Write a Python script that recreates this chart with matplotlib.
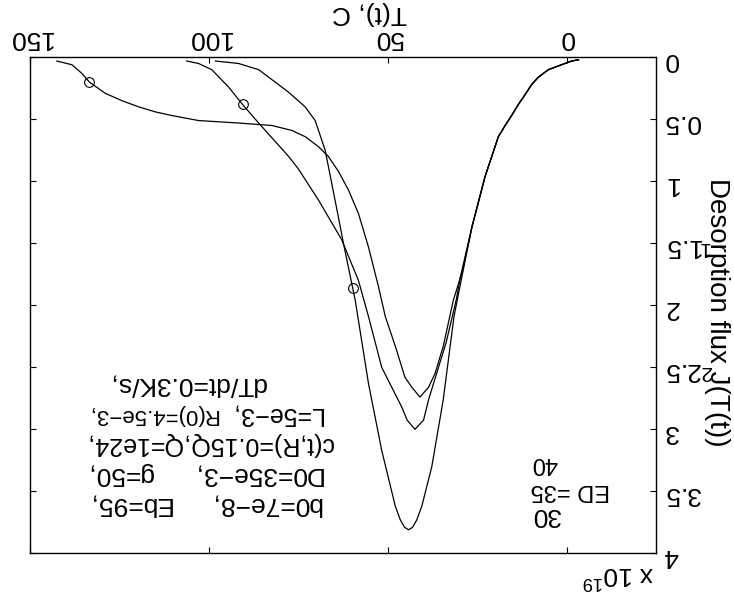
import matplotlib
matplotlib.use("Agg")
import matplotlib.pyplot as plt

plt.rcParams["font.family"] = "sans-serif"
plt.rcParams["font.sans-serif"] = ["Liberation Sans", "DejaVu Sans"]
plt.rcParams["mathtext.default"] = "regular"

# Desorption flux curves, flux in units of 1e19, temperature in C
temp_ed30 = [-3.2, -1.3, 0.6, 3.4, 5.2, 8.0, 9.9, 11.7, 13.6, 15.5,
             17.3, 19.2, 22.9, 26.6, 29.4, 31.6, 34.6, 37.8, 40.6, 42.0,
             43.2, 44.3, 45.4, 46.6, 48.0, 51.8, 55.5, 59.2, 62.5, 63.9,
             67.6, 70.4, 73.2, 77.9, 82.5, 86.2, 91.8, 98.3]
flux_ed30 = [0.02, 0.03, 0.05, 0.08, 0.10, 0.16, 0.22, 0.30, 0.38, 0.47,
             0.55, 0.64, 0.96, 1.37, 1.77, 2.09, 2.76, 3.30, 3.62, 3.73,
             3.79, 3.81, 3.79, 3.73, 3.62, 3.17, 2.63, 1.96, 1.50, 1.29,
             0.75, 0.51, 0.40, 0.28, 0.18, 0.10, 0.05, 0.03]

temp_ed35 = [-3.2, -1.3, 0.6, 3.4, 5.2, 8.0, 9.9, 11.7, 13.6, 15.5,
             17.3, 19.2, 22.9, 26.6, 29.8, 31.0, 33.8, 38.7, 40.1, 42.5,
             44.7, 46.2, 49.0, 51.8, 55.5, 58.3, 63.0, 69.5, 75.1, 77.8,
             86.2, 90.7, 94.6, 99.3, 103.0, 106.3]
flux_ed35 = [0.02, 0.03, 0.05, 0.08, 0.10, 0.16, 0.22, 0.30, 0.38, 0.47,
             0.55, 0.64, 0.96, 1.37, 1.77, 1.96, 2.30, 2.76, 2.925, 3.00,
             2.925, 2.82, 2.66, 2.50, 2.09, 1.80, 1.47, 1.15, 0.90, 0.80,
             0.53, 0.38, 0.24, 0.10, 0.05, 0.03]

temp_ed40 = [-3.2, -1.3, 0.6, 3.4, 5.2, 8.0, 9.9, 11.7, 13.6, 15.5,
             17.3, 19.2, 22.9, 26.6, 29.2, 31.8, 34.6, 36.9, 38.7, 41.1,
             43.4, 45.3, 48.0, 50.8, 52.7, 55.5, 58.3, 61.1, 63.9, 66.7,
             69.5, 73.2, 76.9, 82.5, 91.8, 103.0, 110.4, 115.1, 119.7, 124.4,
             129.1, 133.5, 135.6, 138.4, 142.6]
flux_ed40 = [0.02, 0.03, 0.05, 0.08, 0.10, 0.16, 0.22, 0.30, 0.38, 0.47,
             0.55, 0.64, 0.96, 1.37, 1.72, 1.96, 2.33, 2.55, 2.66, 2.74,
             2.66, 2.58, 2.33, 2.09, 1.85, 1.53, 1.26, 1.07, 0.92, 0.80,
             0.72, 0.64, 0.59, 0.55, 0.53, 0.51, 0.47, 0.44, 0.40, 0.35,
             0.29, 0.20, 0.13, 0.06, 0.03]

marker_temp = [59.7, 90.7, 133.5]
marker_flux = [1.86, 0.38, 0.20]

x_ticks = [0, 50, 100, 150]
y_ticks = [0, 0.5, 1, 1.5, 2, 2.5, 3, 3.5, 4]
y_tick_labels = ["0", "0.5", "1", "1.5", "2", "2.5", "3", "3.5", "4"]

params_left = ["b0=7e\u22128,", "D0=35e\u22123,", "c(t,R)=0.15Q,", "L=5e\u22123,", "dT/dt=0.3K/s,"]
params_right = ["Eb=95,", "g=50,", "Q=1e24,", "R(0)=4.5e\u22123,", ""]
ed_labels = ["40", "ED =35", "30"]

fig = plt.figure(figsize=(7.34, 5.98), dpi=100)
ax = fig.add_axes([0.0414, 0.0746, 0.853, 0.8296])

for t, j in [(temp_ed30, flux_ed30), (temp_ed35, flux_ed35), (temp_ed40, flux_ed40)]:
    ax.plot(t, j, color="black", lw=0.9)
ax.plot(marker_temp, marker_flux, "o", mfc="none", mec="black", ms=7, mew=0.8)

# the whole chart is shown upside down
ax.set_xlim(150, -25)
ax.set_ylim(4, 0)
ax.set_xticks(x_ticks)
ax.set_yticks(y_ticks)
ax.set_yticklabels(y_tick_labels)
ax.tick_params(direction="in", length=4, width=0.8, labelsize=19, top=True, right=True,
               labeltop=True, labelbottom=False, labelright=True, labelleft=False,
               labelrotation=180, pad=5)
for s in ax.spines.values():
    s.set_linewidth(1.0)

ax.set_xlabel("T(t), C", fontsize=19, rotation=180, ha="center", va="center")
ax.xaxis.set_label_coords(0.541, 1.089)
ax.set_ylabel("Desorption flux J(T(t))", fontsize=20, rotation=270, ha="center", va="center")
ax.yaxis.set_label_coords(1.097, 0.485)

ax.text(0.996, -0.014, r"x 10$^{19}$", transform=ax.transAxes, fontsize=19,
        rotation=180, ha="right", va="top")

# stray digits that sit beside the 1.5 and 2.5 tick labels
fig.text(704 / 734, 1 - 247 / 598, "1", fontsize=15, rotation=180, ha="center", va="center")
fig.text(705 / 734, 1 - 372 / 598, "2", fontsize=15, rotation=180, ha="center", va="center")

# parameter block: image-right edge of first column, image-left edge of second
line_y = [3.603, 3.361, 3.119, 2.877, 2.635]
left_x = [68.6, 68.6, 65.3, 68.6, 84.3]
left_fs = [19, 19, 18, 18, 19]
right_x = [134.3, 134.3, 134.8, 134.3, 134.3]
right_fs = [19, 19, 18, 16, 19]
for k, (a, b) in enumerate(zip(params_left, params_right)):
    ax.text(left_x[k], line_y[k], a, fontsize=left_fs[k], rotation=180, ha="right", va="center")
    if b:
        ax.text(right_x[k], line_y[k], b, fontsize=right_fs[k], rotation=180, ha="left",
                va="center")

for lab, yy, fs in zip(ed_labels, [3.27, 3.49, 3.69], [17, 17, 19]):
    ax.text(10.1, yy, lab, fontsize=fs, rotation=180, ha="left", va="center")

fig.savefig("out.png", dpi=100)
